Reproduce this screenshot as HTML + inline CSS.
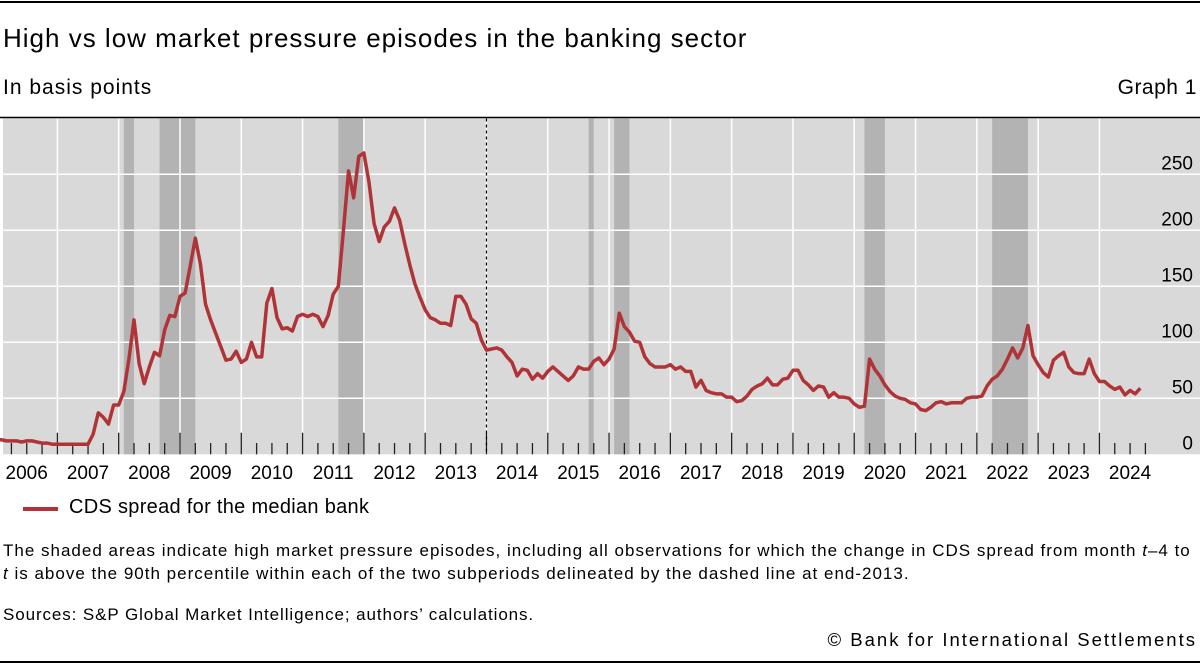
<!DOCTYPE html>
<html><head><meta charset="utf-8">
<style>
body{margin:0;width:1200px;height:665px;background:#fff;font-family:"Liberation Sans",sans-serif;color:#000;position:relative;overflow:hidden}
.t{position:absolute;white-space:nowrap}
</style></head><body>
<div style="position:absolute;left:0;top:1px;width:1200px;height:2px;background:#000"></div>
<div class="t" style="left:3px;top:23px;font-size:26px;letter-spacing:1px">High vs low market pressure episodes in the banking sector</div>
<div class="t" style="left:3px;top:76px;font-size:21px;letter-spacing:1px">In basis points</div>
<div class="t" style="right:3px;top:76px;font-size:21px;letter-spacing:0.5px">Graph 1</div>
<svg id="chart" style="position:absolute;left:0;top:0" width="1200" height="500"></svg>
<div style="position:absolute;left:23px;top:507px;width:35px;height:4px;background:#b03437"></div>
<div class="t" style="left:69px;top:496px;font-size:20px;letter-spacing:0.3px">CDS spread for the median bank</div>
<div class="t" style="left:3px;top:539px;font-size:17px;letter-spacing:1px;line-height:23px">The shaded areas indicate high market pressure episodes, including all observations for which the change in CDS spread from month <i>t</i>–4 to<br><i>t</i> is above the 90th percentile within each of the two subperiods delineated by the dashed line at end-2013.</div>
<div class="t" style="left:3px;top:605px;font-size:17px;letter-spacing:0.9px">Sources: S&amp;P Global Market Intelligence; authors’ calculations.</div>
<div class="t" style="right:3px;top:629px;font-size:18.5px;letter-spacing:2px">© Bank for International Settlements</div>
<div style="position:absolute;left:0;top:661px;width:1200px;height:2px;background:#000"></div>
<script>
const years=["2006","2007","2008","2009","2010","2011","2012","2013","2014","2015","2016","2017","2018","2019","2020","2021","2022","2023","2024"];
const yTicks=[0,50,100,150,200,250];
const shadeStart=[25,32,67,116,121,170,195];
const shadeEnd=[27,39,72,117,124,174,202];
const splitMonth=96;
const cds=[13,13,12,12,12,11,12,12,11,10,10,9,9,9,9,9,9,9,9,18,37,33,27,44,44,56,85,120,81,63,78,91,88,111,124,123,141,144,168,193,170,134,120,108,96,84,85,92,82,85,100,87,87,135,148,122,112,113,110,123,125,123,125,123,114,124,143,150,200,253,229,266,269,243,206,190,203,208,220,209,188,169,152,140,129,122,120,117,117,115,141,141,134,121,117,102,
93,94,95,93,87,82,70,76,75,67,72,68,74,78,74,70,66,70,78,76,76,83,86,80,85,94,126,114,109,101,100,87,81,78,78,78,80,76,78,74,74,60,66,57,55,54,54,51,51,47,48,52,58,61,63,68,62,62,67,68,75,75,66,62,57,61,60,51,55,51,51,50,45,42,43,85,76,70,62,56,52,50,49,46,45,40,39,42,46,47,45,46,46,46,50,51,51,52,61,67,70,76,85,95,86,95,115,88,80,73,69,84,88,91,78,73,72,72,85,72,65,65,61,58,60,53,57,54,59];
const NS="http://www.w3.org/2000/svg";
const svgEl=document.getElementById('chart');
const L=3,R=1200,T=118.5,B=454.3;
const xM=m=>-3.9+5.108*m;
const yV=v=>B-v*1.12;
function mk(tag,attrs){const e=document.createElementNS(NS,tag);for(const k in attrs)e.setAttribute(k,attrs[k]);svgEl.appendChild(e);return e;}
const bg=mk('rect',{x:L,y:T,width:R-L,height:B-T,fill:'#d9d9d9'});


for(let i=0;i<shadeStart.length;i++){
  const r=mk('rect',{x:xM(shadeStart[i]),y:T,width:xM(shadeEnd[i])-xM(shadeStart[i]),height:B-T,fill:'#b3b3b3'});
  
  
}
yTicks.forEach(v=>{
  if(v>0){const g=mk('line',{x1:L,x2:R,y1:yV(v),y2:yV(v),stroke:'#fff','stroke-width':1.5});
  
  }
  const t=mk('text',{x:1193,y:yV(v)-5,'text-anchor':'end','font-size':19,'font-family':'Liberation Sans, sans-serif'});
  t.textContent=v;
  
  
});
years.forEach((y,i)=>{
  const x=xM(i*12);
  if(i>0){const g=mk('line',{x1:x,x2:x,y1:T,y2:B,stroke:'#fff','stroke-width':1.5});
  
  
  const tk=mk('line',{x1:x,x2:x,y1:432.7,y2:B,stroke:'#222','stroke-width':1.3});
  
  }
  for(let q=1;q<4;q++){const xq=xM(i*12+q*3);if(xq>1150)continue;
    const mt=mk('line',{x1:xq,x2:xq,y1:443,y2:B,stroke:'#222','stroke-width':1.3});
    
    }
  const t=mk('text',{x:x+30.6,y:479,'text-anchor':'middle','font-size':19,'font-family':'Liberation Sans, sans-serif'});
  t.textContent=y;
  
  
});
const dv=mk('line',{x1:xM(splitMonth),x2:xM(splitMonth),y1:T,y2:B,stroke:'#000','stroke-width':1.2,'stroke-dasharray':'3,3'});


const pl=mk('polyline',{points:cds.map((v,i)=>xM(i)+','+yV(v)).join(' '),fill:'none',stroke:'#b03437','stroke-width':3.5,'stroke-linejoin':'round'});


const topRule=mk('line',{x1:0,x2:1200,y1:117.5,y2:117.5,stroke:'#000','stroke-width':1.5});


</script>
</body></html>
